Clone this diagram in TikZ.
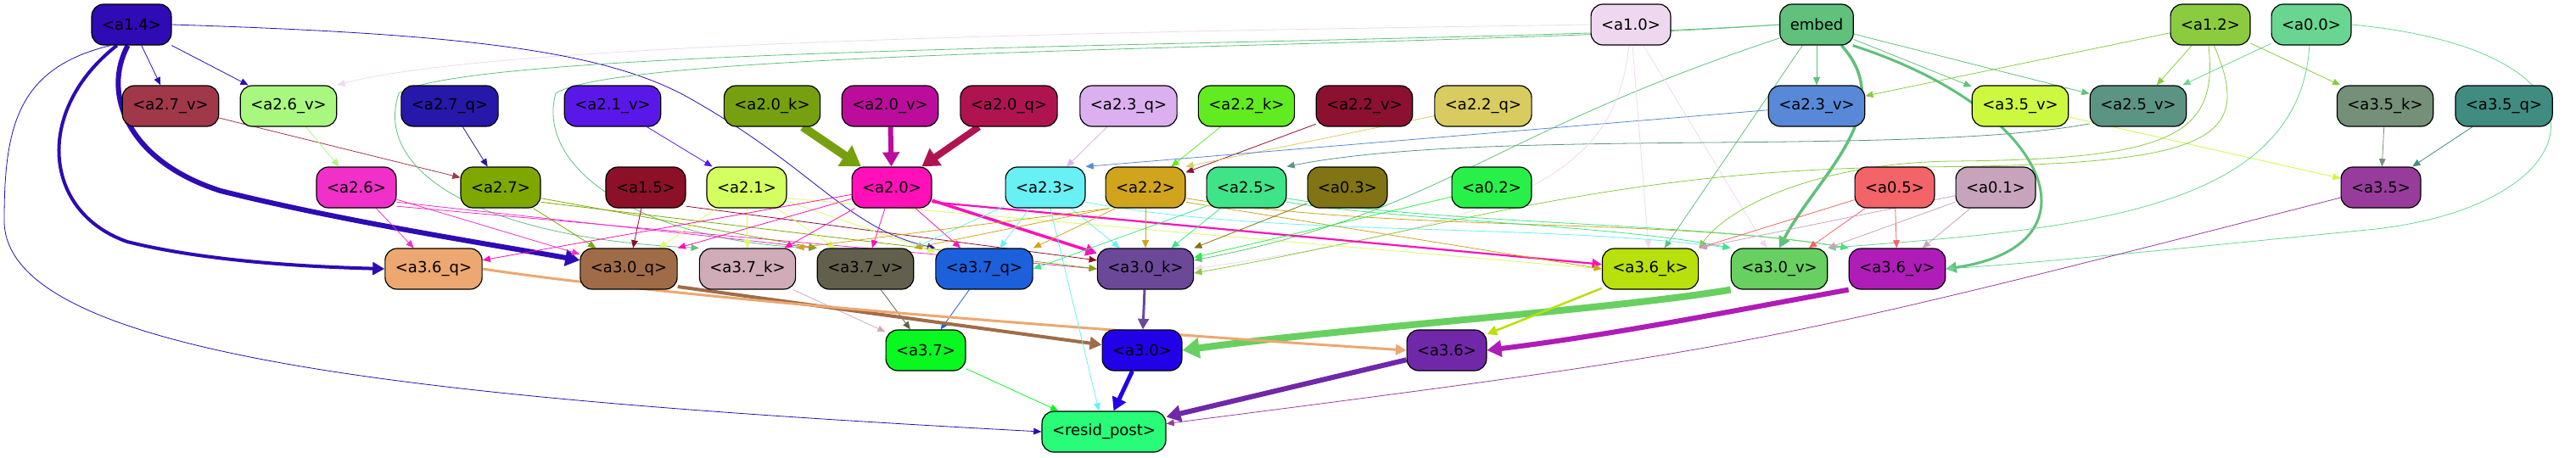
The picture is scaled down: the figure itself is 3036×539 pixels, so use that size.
\documentclass[tikz,border=0pt]{standalone}
\usepackage{fontspec}
\setmainfont{DejaVu Sans}
\usetikzlibrary{arrows.meta,backgrounds}
\definecolor{c14}{HTML}{2E0BB4}
\definecolor{c10}{HTML}{EFD8EF}
\definecolor{cemb}{HTML}{60C07C}
\definecolor{c12}{HTML}{8ACB40}
\definecolor{c00}{HTML}{68D690}
\definecolor{c27v}{HTML}{A0384A}
\definecolor{c26v}{HTML}{A8F880}
\definecolor{c27q}{HTML}{2618A8}
\definecolor{c21v}{HTML}{5A18E8}
\definecolor{c20k}{HTML}{76A010}
\definecolor{c20v}{HTML}{BC0C9C}
\definecolor{c20q}{HTML}{B01450}
\definecolor{c23q}{HTML}{DCB0F0}
\definecolor{c22k}{HTML}{60EC20}
\definecolor{c22v}{HTML}{8C1030}
\definecolor{c22q}{HTML}{D8CC60}
\definecolor{c23v}{HTML}{5888D8}
\definecolor{c35v}{HTML}{CCF840}
\definecolor{c25v}{HTML}{5C9484}
\definecolor{c35k}{HTML}{749078}
\definecolor{c35q}{HTML}{408C80}
\definecolor{c26}{HTML}{F030C8}
\definecolor{c27}{HTML}{7EA800}
\definecolor{c15}{HTML}{8C1028}
\definecolor{c21}{HTML}{D4FF60}
\definecolor{c20}{HTML}{FF10B8}
\definecolor{c23}{HTML}{68F0F4}
\definecolor{c22}{HTML}{D0A41C}
\definecolor{c25}{HTML}{40E488}
\definecolor{c03}{HTML}{807414}
\definecolor{c02}{HTML}{28F048}
\definecolor{c05}{HTML}{F26468}
\definecolor{c01}{HTML}{C8A4BC}
\definecolor{c35}{HTML}{983C9C}
\definecolor{c36q}{HTML}{ECA870}
\definecolor{c30q}{HTML}{A06C48}
\definecolor{c37k}{HTML}{D0ACB8}
\definecolor{c37v}{HTML}{62604C}
\definecolor{c37q}{HTML}{1C60DC}
\definecolor{c30k}{HTML}{6C4898}
\definecolor{c36k}{HTML}{B8E00C}
\definecolor{c30v}{HTML}{68D060}
\definecolor{c36v}{HTML}{B01CB8}
\definecolor{c37}{HTML}{08F820}
\definecolor{c30}{HTML}{2200E8}
\definecolor{c36}{HTML}{7028A8}
\definecolor{cres}{HTML}{28FC78}
\begin{document}
\begin{tikzpicture}[x=1pt,y=-1pt,
  box/.style={draw=black, rounded corners=14pt, minimum height=48pt, inner xsep=12pt, line width=1.2pt, font=\fontsize{18}{21}\selectfont},
  arr/.style={-{Triangle[length=8pt 1.5,width=6pt 2.2]}, line width=0.8pt},
  lw/.style={line width=#1}
]
\useasboundingbox (0,0) rectangle (3036,539);
% row 1
\node[box, fill=c14]  (a14) at (155,29)  {<a1.4>};
\node[box, fill=c10]  (a10) at (1922,29) {<a1.0>};
\node[box, fill=cemb] (emb) at (2141,29) {embed};
\node[box, fill=c12]  (a12) at (2605,29) {<a1.2>};
\node[box, fill=c00]  (a00) at (2724,29) {<a0.0>};
% row 2
\node[box, fill=c27v] (a27v) at (201,125)  {<a2.7\_v>};
\node[box, fill=c26v] (a26v) at (340,125)  {<a2.6\_v>};
\node[box, fill=c27q] (a27q) at (530,125)  {<a2.7\_q>};
\node[box, fill=c21v] (a21v) at (722,125)  {<a2.1\_v>};
\node[box, fill=c20k] (a20k) at (910,125)  {<a2.0\_k>};
\node[box, fill=c20v] (a20v) at (1049,125) {<a2.0\_v>};
\node[box, fill=c20q] (a20q) at (1189,125) {<a2.0\_q>};
\node[box, fill=c23q] (a23q) at (1330,125) {<a2.3\_q>};
\node[box, fill=c22k] (a22k) at (1469,125) {<a2.2\_k>};
\node[box, fill=c22v] (a22v) at (1608,125) {<a2.2\_v>};
\node[box, fill=c22q] (a22q) at (1748,125) {<a2.2\_q>};
\node[box, fill=c23v] (a23v) at (2141,125) {<a2.3\_v>};
\node[box, fill=c35v] (a35v) at (2381,125) {<a3.5\_v>};
\node[box, fill=c25v] (a25v) at (2520,125) {<a2.5\_v>};
\node[box, fill=c35k] (a35k) at (2811,125) {<a3.5\_k>};
\node[box, fill=c35q] (a35q) at (2951,125) {<a3.5\_q>};
% row 3
\node[box, fill=c26] (a26) at (420,221)  {<a2.6>};
\node[box, fill=c27] (a27) at (590,221)  {<a2.7>};
\node[box, fill=c15] (a15) at (761,221)  {<a1.5>};
\node[box, fill=c21] (a21) at (880,221)  {<a2.1>};
\node[box, fill=c20] (a20) at (1051,221) {<a2.0>};
\node[box, fill=c23] (a23) at (1232,221) {<a2.3>};
\node[box, fill=c22] (a22) at (1350,221) {<a2.2>};
\node[box, fill=c25] (a25) at (1469,221) {<a2.5>};
\node[box, fill=c03] (a03) at (1588,221) {<a0.3>};
\node[box, fill=c02] (a02) at (1758,221) {<a0.2>};
\node[box, fill=c05] (a05) at (2233,221) {<a0.5>};
\node[box, fill=c01] (a01) at (2352,221) {<a0.1>};
\node[box, fill=c35] (a35) at (2806,221) {<a3.5>};
% row 4
\node[box, fill=c36q] (a36q) at (511,317)  {<a3.6\_q>};
\node[box, fill=c30q] (a30q) at (741,317)  {<a3.0\_q>};
\node[box, fill=c37k] (a37k) at (881,317)  {<a3.7\_k>};
\node[box, fill=c37v] (a37v) at (1020,317) {<a3.7\_v>};
\node[box, fill=c37q] (a37q) at (1160,317) {<a3.7\_q>};
\node[box, fill=c30k] (a30k) at (1350,317) {<a3.0\_k>};
\node[box, fill=c36k] (a36k) at (1945,317) {<a3.6\_k>};
\node[box, fill=c30v] (a30v) at (2097,317) {<a3.0\_v>};
\node[box, fill=c36v] (a36v) at (2236,317) {<a3.6\_v>};
% row 5 and output
\node[box, fill=c37] (a37) at (1091,413) {<a3.7>};
\node[box, fill=c30] (a30) at (1346,413) {<a3.0>};
\node[box, fill=c36] (a36) at (1705,413) {<a3.6>};
\node[box, fill=cres] (res) at (1301,509) {<resid\_post>};
\begin{pgfonlayer}{background}
% into row 2
\draw[arr, c14] (a14) -- (a27v);
\draw[arr, c14] (a14) -- (a26v);
\draw[arr, c10] (a10.west) .. controls (1500,35) and (600,45) .. (a26v.north east);
\draw[arr, cemb] (emb) -- (a23v);
\draw[arr, cemb] (emb) -- (a35v);
\draw[arr, cemb] (emb) -- (a25v);
\draw[arr, c12] (a12) -- (a23v);
\draw[arr, c12] (a12) -- (a25v);
\draw[arr, c12] (a12) -- (a35k);
\draw[arr, c00] (a00) -- (a25v);
% into row 3
\draw[arr, c27v] (a27v) -- (a27);
\draw[arr, c26v] (a26v) -- (a26);
\draw[arr, c27q] (a27q) -- (a27);
\draw[arr, c21v] (a21v) -- (a21);
\draw[arr, c20k, lw=10pt] (a20k) -- (a20);
\draw[arr, c20v, lw=6pt] (a20v) -- (a20);
\draw[arr, c20q, lw=8pt] (a20q) -- (a20);
\draw[arr, c23q] (a23q) -- (a23);
\draw[arr, c22k] (a22k) -- (a22);
\draw[arr, c22v] (a22v) -- (a22);
\draw[arr, c22q] (a22q) -- (a22.north east);
\draw[arr, c23v] (a23v) -- (a23.north east);
\draw[arr, c25v] (a25v.200) .. controls (2250,185) and (1750,150) .. (a25.north east);
\draw[arr, c35v] (a35v) -- (a35);
\draw[arr, c35k] (a35k) -- (a35);
\draw[arr, c35q] (a35q) -- (a35);
% into row 4
\draw[arr, c14, lw=4pt] (a14.235) .. controls (40,130) and (50,250) .. (150,285) .. controls (250,310) and (380,315) .. (a36q.west);
\draw[arr, c14, lw=6pt] (a14.260) .. controls (120,110) and (150,190) .. (260,225) .. controls (400,260) and (560,285) .. (a30q.170);
\draw[arr, c14] (a14.east) .. controls (550,40) and (720,60) .. (820,120) .. controls (960,200) and (1000,270) .. (a37q.north west);
\draw[arr, cemb] (emb.west) .. controls (1700,55) and (560,50) .. (470,110) .. controls (440,200) and (560,280) .. (a37k.north west);
\draw[arr, cemb] (emb.west) .. controls (1700,58) and (740,55) .. (655,110) .. controls (630,200) and (760,285) .. (a37v.north west);
\draw[arr, cemb] (emb.200) .. controls (1750,160) and (1700,250) .. (a30k.10);
\draw[arr, cemb] (emb) -- (a36k);
\draw[arr, cemb, lw=3.5pt] (emb.320) .. controls (2240,130) and (2140,210) .. (a30v.north);
\draw[arr, cemb, lw=3pt] (emb.330) .. controls (2420,130) and (2480,290) .. (a36v.east);
\draw[arr, c10] (a10.265) .. controls (1905,200) and (1800,260) .. (a30k.east);
\draw[arr, c10] (a10) -- (a36k);
\draw[arr, c10] (a10) -- (a30v);
\draw[arr, c12] (a12.265) .. controls (2615,160) and (2560,188) .. (2300,190) .. controls (2150,192) and (2040,240) .. (a36k.north east);
\draw[arr, c12] (a12.280) .. controls (2660,170) and (2600,195) .. (2250,197) .. controls (1900,200) and (1700,270) .. (a30k.-5);
\draw[arr, c00] (a00.265) .. controls (2710,250) and (2450,270) .. (a30v.north east);
\draw[arr, c00] (a00.east) .. controls (3100,60) and (3060,240) .. (2800,270) .. controls (2550,295) and (2400,310) .. (a36v.east);
\draw[arr, c26] (a26) -- (a36q);
\draw[arr, c26] (a26) -- (a30q);
\draw[arr, c26] (a26.340) -- (a37v.north west);
\draw[arr, c26] (a26.335) -- (a30k.west);
\draw[arr, c27] (a27) -- (a30q);
\draw[arr, c27] (a27.345) -- (a37v.north west);
\draw[arr, c27] (a27.340) -- (a30k.west);
\draw[arr, c15] (a15) -- (a30q);
\draw[arr, c15] (a15.335) -- (a30k.170);
\draw[arr, c21] (a21) -- (a30q);
\draw[arr, c21] (a21) -- (a37k);
\draw[arr, c21] (a21) -- (a37v);
\draw[arr, c21] (a21) -- (a37q);
\draw[arr, c21] (a21.345) -- (a36k.west);
\draw[arr, c20] (a20) -- (a36q);
\draw[arr, c20] (a20) -- (a30q.north east);
\draw[arr, c20] (a20) -- (a37k);
\draw[arr, c20] (a20) -- (a37v);
\draw[arr, c20] (a20) -- (a37q);
\draw[arr, c20, lw=3.5pt] (a20) -- (a30k);
\draw[arr, c20, lw=2.2pt] (a20.340) -- (a36k);
\draw[arr, c23] (a23) -- (a37v.north east);
\draw[arr, c23] (a23) -- (a37q);
\draw[arr, c23] (a23) -- (a30k);
\draw[arr, c23] (a23.340) .. controls (1500,280) and (1800,262) .. (a30v.north west);
\draw[arr, c22] (a22.210) -- (a37k.north east);
\draw[arr, c22] (a22.210) -- (a37v.north east);
\draw[arr, c22] (a22.215) -- (a37q.north east);
\draw[arr, c22] (a22) -- (a30k);
\draw[arr, c22] (a22.340) -- (a36k.west);
\draw[arr, c22] (a22.345) .. controls (1650,275) and (1950,255) .. (a36v.north west);
\draw[arr, c25] (a25.205) -- (a37q.east);
\draw[arr, c25] (a25) -- (a30k);
\draw[arr, c25] (a25.340) .. controls (1650,260) and (1900,265) .. (a30v.north west);
\draw[arr, c25] (a25.345) .. controls (1700,265) and (2000,262) .. (a36v.north west);
\draw[arr, c03] (a03) -- (a30k.north east);
\draw[arr, c02] (a02) -- (a30k);
\draw[arr, c05] (a05) -- (a36k.north east);
\draw[arr, c05] (a05) -- (a30v);
\draw[arr, c05] (a05) -- (a36v);
\draw[arr, c01] (a01) -- (a36k.north east);
\draw[arr, c01] (a01) -- (a30v.north east);
\draw[arr, c01] (a01) -- (a36v);
% into row 5
\draw[arr, c37k] (a37k) -- (a37);
\draw[arr, c37v] (a37v) -- (a37);
\draw[arr, c37q] (a37q) -- (a37);
\draw[arr, c30q, lw=4pt] (a30q.340) -- (a30);
\draw[arr, c30k, lw=3pt] (a30k) -- (a30);
\draw[arr, c30v, lw=8pt] (a30v.south west) .. controls (1900,365) and (1600,385) .. (a30.east);
\draw[arr, c36q, lw=3pt] (a36q.east) .. controls (800,352) and (1300,390) .. (a36.west);
\draw[arr, c36k, lw=2.5pt] (a36k) -- (a36);
\draw[arr, c36v, lw=6pt] (a36v.south west) .. controls (2050,365) and (1900,395) .. (a36.east);
% into resid_post
\draw[arr, c14] (a14.225) .. controls (20,80) and (5,150) .. (5,260) .. controls (5,420) and (500,470) .. (res.west);
\draw[arr, c23] (a23) -- (res);
\draw[arr, c37] (a37) -- (res);
\draw[arr, c30, lw=5pt] (a30) -- (res);
\draw[arr, c36, lw=6pt] (a36) -- (res);
\draw[arr, c35] (a35) .. controls (2068,410) .. (res);
\end{pgfonlayer}
\end{tikzpicture}
\end{document}
